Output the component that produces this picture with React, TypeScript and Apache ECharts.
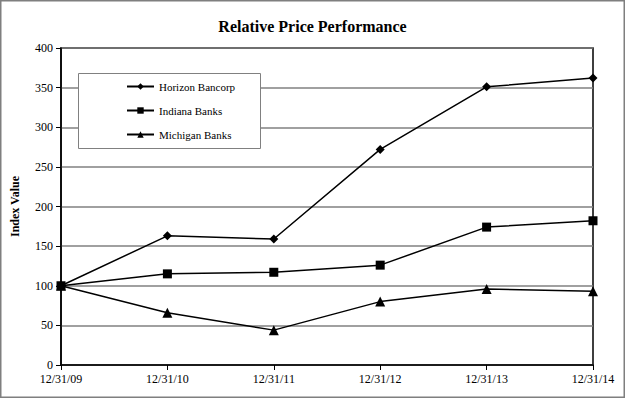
import React, { useEffect, useRef } from "react";
import * as echarts from "echarts";

const categories = ["12/31/09", "12/31/10", "12/31/11", "12/31/12", "12/31/13", "12/31/14"];
const horizon = [100, 163, 159, 272, 351, 362];
const indiana = [100, 115, 117, 126, 174, 182];
const michigan = [100, 66, 44, 80, 96, 93];

const FONT = "'Liberation Serif', 'Times New Roman', serif";

export default function App() {
  const ref = useRef<HTMLDivElement>(null);
  useEffect(() => {
    if (!ref.current) return;
    const chart = echarts.init(ref.current, undefined, { renderer: "svg" });
    const mk = (name: string, data: number[], symbol: string, size: number) => ({
      name,
      type: "line",
      data,
      symbol,
      symbolSize: size,
      showAllSymbol: true,
      lineStyle: { color: "#000", width: 1.5 },
      itemStyle: { color: "#000" },
      z: 5,
    });
    chart.setOption({
      animation: false,
      backgroundColor: "#fff",
      textStyle: { fontFamily: FONT },
      title: {
        text: "Relative Price Performance",
        left: "center",
        top: 13,
        textStyle: { fontFamily: FONT, fontSize: 16, fontWeight: "bold", color: "#000" },
      },
      graphic: [
        {
          type: "rect",
          shape: { x: 0.5, y: 0.5, width: 624, height: 397 },
          style: { fill: "none", stroke: "#7f7f7f", lineWidth: 2 },
          z: 100,
        },
        {
          type: "rect",
          shape: { x: 78.5, y: 73.5, width: 182, height: 75 },
          style: { fill: "#fff", stroke: "#808080", lineWidth: 1 },
          z: 10,
        },
      ],
      legend: {
        orient: "vertical",
        left: 121,
        top: 76,
        itemWidth: 27,
        itemHeight: 8,
        itemGap: 13,
        z: 20,
        textStyle: { fontFamily: FONT, fontSize: 11, fontWeight: "normal", color: "#000" },
        data: ["Horizon Bancorp", "Indiana Banks", "Michigan Banks"],
      },
      grid: { left: 61, right: 32, top: 48, bottom: 33, show: true, borderColor: "#000", borderWidth: 1.5 },
      xAxis: {
        type: "category",
        data: categories,
        boundaryGap: false,
        axisLine: { lineStyle: { color: "#000", width: 1.5 } },
        axisTick: { show: true, inside: false, length: 5, lineStyle: { color: "#000" } },
        axisLabel: { fontFamily: FONT, fontSize: 12, fontWeight: "normal", color: "#000", margin: 8 },
        splitLine: { show: false },
      },
      yAxis: {
        type: "value",
        min: 0,
        max: 400,
        interval: 50,
        name: "Index Value",
        nameLocation: "middle",
        nameGap: 40,
        nameRotate: 90,
        nameTextStyle: { fontFamily: FONT, fontSize: 12, fontWeight: "bold", color: "#000" },
        axisLine: { show: true, lineStyle: { color: "#000", width: 1.5 } },
        axisTick: { show: true, inside: false, length: 5, lineStyle: { color: "#000" } },
        axisLabel: { fontFamily: FONT, fontSize: 12, fontWeight: "normal", color: "#000", margin: 8 },
        splitLine: { show: true, lineStyle: { color: "#808080", width: 1.5 } },
      },
      series: [
        mk("Horizon Bancorp", horizon, "diamond", 9),
        mk("Indiana Banks", indiana, "rect", 9),
        mk("Michigan Banks", michigan, "triangle", 10),
      ],
    });
    return () => chart.dispose();
  }, []);
  return (
    <div
      ref={ref}
      style={{ position: "fixed", left: 0, top: 0, width: 625, height: 398 }}
    />
  );
}
